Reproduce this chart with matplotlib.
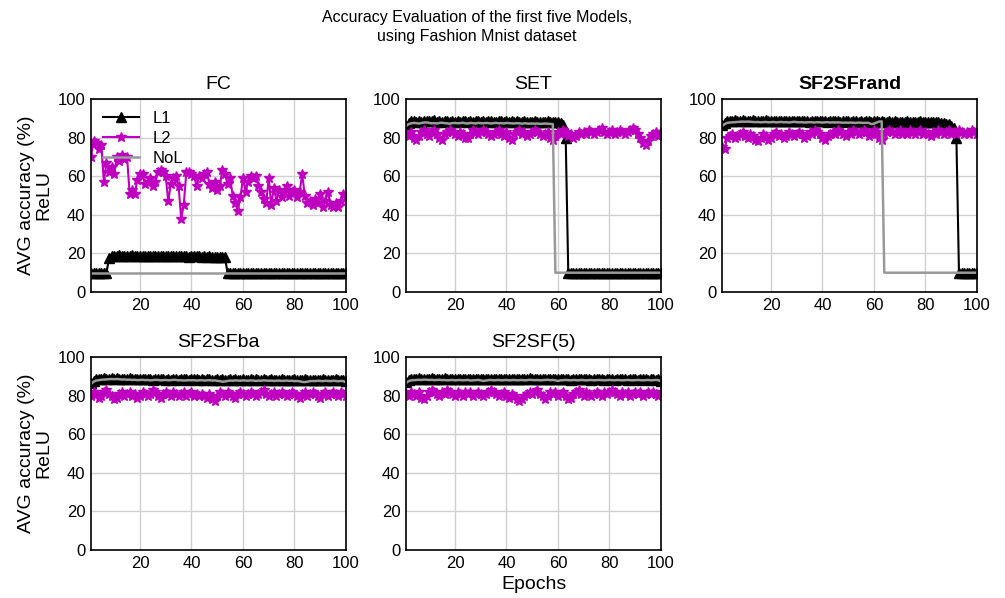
import matplotlib
matplotlib.use("Agg")
import matplotlib.pyplot as plt

plt.rcParams['font.family'] = ['Liberation Sans', 'DejaVu Sans']

epochs = list(range(1, 101))

FC_L1 = [10, 10, 10, 10, 10, 10, 10, 17.5, 18.6, 18.9,
         18.7, 19.0, 18.8, 18.6, 18.9, 18.7, 19.0, 18.8, 18.6, 18.9,
         18.7, 18.9, 18.6, 18.8, 18.5, 18.7, 18.9, 18.6, 18.8, 18.5,
         18.7, 18.4, 18.6, 18.8, 18.5, 18.7, 18.4, 18.6, 18.3, 18.5,
         18.7, 18.4, 18.6, 18.3, 18.5, 18.2, 18.4, 18.1, 18.3, 18.2,
         18.0, 18.2, 18.0, 10, 10, 10, 10, 10, 10, 10,
         10, 10, 10, 10, 10, 10, 10, 10, 10, 10,
         10, 10, 10, 10, 10, 10, 10, 10, 10, 10,
         10, 10, 10, 10, 10, 10, 10, 10, 10, 10,
         10, 10, 10, 10, 10, 10, 10, 10, 10, 10]
FC_L2 = [70, 78, 77, 74, 76, 57, 67, 62, 65, 61,
         70, 68, 71, 69, 70, 51, 53, 51, 58, 61,
         61, 56, 57, 59, 55, 57, 62, 63, 62, 60,
         47, 56, 59, 60, 55, 38, 45, 62, 62, 61,
         60, 55, 60, 59, 61, 62, 56, 54, 57, 53,
         55, 63, 61, 56, 59, 50, 46, 42, 49, 59,
         52, 57, 60, 59, 60, 55, 52, 48, 46, 59,
         45, 54, 47, 53, 49, 52, 55, 50, 52, 53,
         49, 52, 61, 50, 46, 47, 45, 48, 46, 51,
         44, 47, 52, 45, 44, 46, 44, 47, 51, 49]
FC_NoL = [10.0] * 100

SET_L1 = [86.0, 87.5, 88.4, 88.6, 88.3, 88.7, 88.2, 88.5, 88.8, 88.4,
          88.6, 88.9, 88.3, 88.5, 88.2, 88.6, 88.4, 88.1, 88.5, 88.3,
          88.6, 88.2, 88.4, 88.7, 88.3, 88.5, 88.2, 88.6, 88.4, 88.3,
          88.5, 88.2, 88.4, 88.6, 88.3, 88.1, 88.4, 88.5, 88.2, 88.4,
          88.3, 88.5, 88.2, 88.4, 88.1, 88.3, 88.5, 88.2, 88.0, 88.3,
          88.4, 88.1, 88.3, 88.0, 88.2, 88.4, 88.1, 88.3, 88.0, 88.2,
          87.6, 86.5, 80.0, 10, 10, 10, 10, 10, 10, 10,
          10, 10, 10, 10, 10, 10, 10, 10, 10, 10,
          10, 10, 10, 10, 10, 10, 10, 10, 10, 10,
          10, 10, 10, 10, 10, 10, 10, 10, 10, 10]
SET_L2 = [82, 81, 83, 80, 79, 81, 83, 84, 82, 81,
          83, 84, 82, 80, 79, 82, 83, 84, 83, 82,
          81, 83, 82, 80, 80, 82, 84, 83, 82, 83,
          84, 83, 82, 81, 82, 83, 84, 82, 81, 83,
          80, 79, 82, 83, 84, 82, 83, 81, 82, 83,
          84, 83, 82, 81, 82, 83, 80, 79, 81, 83,
          82, 84, 83, 81, 82, 80, 81, 83, 82, 83,
          82, 84, 83, 82, 83, 84, 85, 83, 82, 83,
          84, 82, 83, 84, 83, 82, 83, 84, 85, 84,
          82, 80, 77, 76, 78, 81, 82, 83, 81, 83]
SET_NoL = [86.0, 87.0, 87.4, 87.6, 87.5, 87.3, 87.6, 87.8, 87.9, 87.6,
           87.4, 87.5, 87.3, 87.6, 87.7, 87.5, 87.4, 87.2, 87.5, 87.6,
           87.4, 87.5, 87.7, 87.4, 87.3, 87.6, 87.5, 87.3, 87.6, 87.5,
           87.4, 87.6, 87.5, 87.3, 87.5, 87.6, 87.4, 87.5, 87.3, 87.6,
           87.5, 87.4, 87.3, 87.5, 87.4, 87.2, 87.4, 87.3, 87.2, 87.3,
           87.2, 87.3, 87.1, 87.2, 87.3, 87.2, 87.1, 87.0, 10, 10,
           10, 10, 10, 10, 10, 10, 10, 10, 10, 10,
           10, 10, 10, 10, 10, 10, 10, 10, 10, 10,
           10, 10, 10, 10, 10, 10, 10, 10, 10, 10,
           10, 10, 10, 10, 10, 10, 10, 10, 10, 10]

RAND_L1 = [86.5, 87.8, 88.6, 88.8, 88.5, 88.9, 88.7, 88.6, 88.9, 88.7,
           88.8, 88.6, 88.9, 88.7, 88.5, 88.8, 88.6, 88.9, 88.7, 88.5,
           88.7, 88.5, 88.8, 88.6, 88.4, 88.7, 88.5, 88.8, 88.6, 88.4,
           88.6, 88.4, 88.7, 88.5, 88.3, 88.6, 88.8, 88.5, 88.4, 88.6,
           88.5, 88.3, 88.6, 88.4, 88.7, 88.5, 88.3, 88.6, 88.4, 88.5,
           88.3, 88.6, 88.4, 88.2, 88.5, 88.3, 88.6, 88.4, 88.2, 88.5,
           88.4, 88.2, 88.5, 88.3, 88.1, 88.4, 88.2, 88.5, 88.3, 88.1,
           88.3, 88.1, 88.4, 88.2, 88.0, 88.3, 88.1, 88.4, 88.2, 88.0,
           88.2, 88.0, 88.3, 87.9, 88.1, 87.8, 87.6, 87.2, 86.8, 86.0,
           85.0, 80.0, 10, 10, 10, 10, 10, 10, 10, 10]
RAND_L2 = [75, 74, 80, 81, 82, 80, 81, 82, 83, 81,
           80, 82, 81, 79, 78, 80, 82, 81, 79, 80,
           82, 83, 81, 82, 80, 81, 83, 82, 81, 82,
           83, 82, 80, 81, 83, 82, 84, 83, 82, 80,
           79, 81, 82, 83, 82, 84, 83, 82, 81, 83,
           82, 84, 83, 82, 83, 84, 83, 81, 82, 84,
           83, 80, 79, 82, 83, 84, 83, 82, 83, 84,
           82, 83, 82, 84, 83, 82, 83, 84, 82, 83,
           82, 81, 83, 82, 84, 83, 82, 83, 84, 82,
           83, 82, 84, 83, 82, 83, 82, 84, 83, 82]
RAND_NoL = [86.0, 87.0, 87.6, 87.8, 87.9, 88.0, 88.1, 88.2, 88.3, 88.2,
            88.3, 88.2, 88.1, 88.0, 88.1, 87.9, 88.0, 88.1, 87.9, 88.0,
            88.1, 87.9, 88.0, 88.1, 87.9, 88.0, 87.8, 88.0, 88.2, 88.0,
            87.9, 88.0, 87.8, 87.9, 88.0, 87.9, 87.8, 88.0, 87.9, 87.8,
            87.9, 88.0, 87.8, 87.9, 87.8, 87.9, 87.8, 87.7, 87.8, 87.7,
            87.8, 87.7, 87.6, 87.8, 87.7, 87.6, 87.7, 87.6, 87.0, 87.2,
            87.8, 88.3, 88.4, 10, 10, 10, 10, 10, 10, 10,
            10, 10, 10, 10, 10, 10, 10, 10, 10, 10,
            10, 10, 10, 10, 10, 10, 10, 10, 10, 10,
            10, 10, 10, 10, 10, 10, 10, 10, 10, 10]

BA_L1 = [86.5, 87.8, 88.5, 88.7, 88.4, 88.9, 88.6, 88.8, 89.0, 88.7,
         88.9, 88.6, 88.8, 88.5, 88.7, 88.9, 88.6, 88.4, 88.7, 88.5,
         88.6, 88.4, 88.7, 88.5, 88.3, 88.6, 88.4, 88.7, 88.5, 88.3,
         88.5, 88.3, 88.6, 88.4, 88.2, 88.5, 88.7, 88.4, 88.3, 88.5,
         88.6, 88.4, 88.2, 88.5, 88.3, 88.4, 88.6, 88.3, 88.1, 88.4,
         88.2, 88.5, 88.3, 88.1, 88.4, 88.2, 88.5, 88.3, 88.2, 88.4,
         88.3, 88.1, 88.4, 88.2, 88.5, 88.3, 88.1, 88.4, 88.2, 88.3,
         88.4, 88.2, 88.3, 88.1, 88.4, 88.2, 88.0, 88.3, 88.2, 88.4,
         88.1, 88.3, 88.2, 88.4, 88.1, 88.3, 88.2, 88.0, 88.3, 88.2,
         88.4, 88.2, 88.1, 88.3, 88.2, 88.4, 88.1, 88.3, 88.2, 87.5]
BA_L2 = [80, 82, 81, 79, 80, 82, 83, 81, 80, 78,
         79, 81, 82, 80, 81, 82, 80, 81, 79, 80,
         82, 81, 80, 81, 83, 82, 80, 79, 81, 82,
         81, 80, 82, 81, 80, 81, 82, 80, 81, 82,
         80, 81, 80, 81, 80, 79, 81, 78, 77, 80,
         82, 81, 80, 82, 81, 80, 79, 81, 82, 81,
         80, 81, 82, 81, 80, 81, 82, 83, 81, 80,
         81, 82, 80, 81, 82, 81, 80, 81, 82, 81,
         80, 79, 81, 82, 80, 81, 82, 81, 80, 79,
         81, 82, 80, 81, 82, 81, 80, 82, 81, 80]
BA_NoL = [86.0, 87.2, 87.8, 88.0, 88.2, 88.3, 88.4, 88.5, 88.6, 88.5,
          88.6, 88.5, 88.3, 88.4, 88.2, 88.3, 88.1, 88.2, 88.0, 88.1,
          88.2, 88.0, 88.1, 87.9, 88.0, 88.2, 88.1, 87.9, 88.0, 88.1,
          87.9, 88.0, 88.2, 88.1, 87.9, 88.0, 87.8, 87.9, 88.0, 87.9,
          88.0, 87.8, 87.9, 88.0, 87.8, 87.9, 88.0, 87.8, 87.9, 87.7,
          87.5, 87.2, 87.3, 87.6, 87.8, 87.7, 87.9, 87.8, 87.7, 87.9,
          87.8, 87.7, 87.9, 87.8, 87.6, 87.8, 87.7, 87.9, 87.8, 87.7,
          87.8, 87.6, 87.7, 87.8, 87.6, 87.7, 87.8, 87.6, 87.7, 87.5,
          87.6, 87.4, 87.1, 87.0, 87.2, 87.5, 87.6, 87.5, 87.7, 87.6,
          87.5, 87.7, 87.6, 87.5, 87.7, 87.6, 87.4, 87.6, 87.5, 86.8]

F5_L1 = [87.0, 88.2, 88.6, 88.8, 88.5, 88.9, 88.6, 88.8, 88.5, 88.7,
         88.9, 88.6, 88.8, 88.5, 88.7, 88.9, 88.6, 88.4, 88.7, 88.5,
         88.7, 88.5, 88.8, 88.6, 88.4, 88.7, 88.5, 88.8, 88.6, 88.4,
         88.6, 88.4, 88.7, 88.5, 88.8, 88.6, 88.4, 88.7, 88.5, 88.6,
         88.8, 88.5, 88.7, 88.4, 88.6, 88.8, 88.5, 88.7, 88.9, 88.6,
         88.7, 88.5, 88.8, 88.6, 88.4, 88.7, 88.5, 88.8, 88.6, 88.4,
         88.6, 88.4, 88.7, 88.5, 88.3, 88.6, 88.4, 88.7, 88.5, 88.6,
         88.4, 88.6, 88.3, 88.5, 88.7, 88.4, 88.6, 88.3, 88.5, 88.4,
         88.6, 88.3, 88.5, 88.7, 88.4, 88.6, 88.3, 88.5, 88.4, 88.6,
         88.3, 88.5, 88.4, 88.6, 88.3, 88.5, 88.4, 88.2, 88.4, 87.6]
F5_L2 = [81, 80, 82, 81, 80, 82, 79, 78, 80, 82,
         83, 82, 81, 80, 82, 81, 83, 82, 81, 80,
         82, 81, 80, 82, 81, 82, 80, 81, 82, 81,
         80, 81, 82, 83, 82, 81, 80, 81, 82, 80,
         79, 81, 80, 78, 77, 78, 80, 81, 82, 81,
         82, 83, 81, 80, 78, 80, 82, 81, 82, 80,
         81, 82, 80, 78, 79, 81, 82, 83, 81, 80,
         82, 81, 80, 81, 82, 81, 80, 82, 81, 82,
         83, 82, 81, 80, 82, 81, 82, 80, 81, 82,
         81, 82, 80, 81, 82, 81, 82, 81, 80, 82]
F5_NoL = [86.5, 87.5, 87.9, 88.0, 88.1, 88.2, 88.1, 88.3, 88.2, 88.1,
          88.2, 88.0, 88.1, 88.2, 88.0, 88.1, 87.9, 88.0, 88.1, 87.9,
          88.0, 88.1, 87.9, 88.0, 88.1, 87.8, 87.9, 88.0, 88.1, 87.9,
          87.6, 87.8, 88.0, 88.1, 87.9, 88.0, 88.1, 87.9, 88.0, 88.1,
          87.9, 88.0, 88.1, 87.9, 88.0, 88.1, 87.9, 88.0, 88.2, 88.1,
          88.0, 88.1, 87.9, 88.0, 88.1, 88.2, 88.0, 88.1, 87.9, 87.6,
          87.9, 88.0, 88.1, 88.0, 87.9, 88.1, 88.0, 87.9, 88.1, 88.0,
          87.9, 88.0, 88.1, 87.9, 88.0, 88.1, 88.0, 87.9, 88.0, 88.1,
          88.0, 87.9, 88.1, 88.0, 87.9, 88.0, 88.1, 88.0, 87.9, 88.0,
          88.1, 88.0, 87.9, 88.0, 88.1, 87.9, 88.0, 88.1, 88.0, 87.4]

titles = ["FC", "SET", "SF2SFrand", "SF2SFba", "SF2SF(5)"]
series = [(FC_L1, FC_L2, FC_NoL), (SET_L1, SET_L2, SET_NoL),
          (RAND_L1, RAND_L2, RAND_NoL), (BA_L1, BA_L2, BA_NoL),
          (F5_L1, F5_L2, F5_NoL)]
labels = ["L1", "L2", "NoL"]
xticks = [20, 40, 60, 80, 100]
yticks = [0, 20, 40, 60, 80, 100]

W, H = 1005, 598
fig = plt.figure(figsize=(W / 100, H / 100), dpi=100)

# pixel boxes: (left, top, right, bottom)
boxes = [(91, 99, 346, 292), (406, 99, 661, 292), (722, 99, 977, 292),
         (91, 357, 346, 550), (406, 357, 661, 550)]

for i, (title, (l1, l2, nol), (x0, y0, x1, y1)) in enumerate(zip(titles, series, boxes)):
    ax = fig.add_axes([x0 / W, 1 - y1 / H, (x1 - x0) / W, (y1 - y0) / H])
    ax.plot(epochs, l1, color='black', marker='^', markersize=7, lw=1.5, label=labels[0])
    ax.plot(epochs, l2, color='#c000c0', marker='*', markersize=7.5, lw=1.5, label=labels[1])
    ax.plot(epochs, nol, color='#999999', lw=1.8, label=labels[2])
    ax.set_xlim(1, 100)
    ax.set_ylim(0, 100)
    ax.set_xticks(xticks)
    ax.set_yticks(yticks)
    ax.grid(True, color='#d0d0d0', lw=1.0)
    ax.set_axisbelow(True)
    ax.tick_params(length=0, labelsize=12, pad=4)
    for s in ax.spines.values():
        s.set_color('black')
        s.set_linewidth(1.2)
    ax.set_title(title, fontsize=14, fontweight='bold' if title == "SF2SFrand" else 'normal', pad=7)
    if i in (0, 3):
        ax.set_ylabel("AVG accuracy (%)\nReLU", fontsize=14, labelpad=4, linespacing=1.0)
    if i == 4:
        ax.set_xlabel("Epochs", fontsize=14, labelpad=4)
    if i == 0:
        ax.legend(loc='upper left', frameon=False, fontsize=12, handlelength=2.2,
                  borderaxespad=0.3, labelspacing=0.3)

fig.text(477 / W, 1 - 27 / H, "Accuracy Evaluation of the first five Models,\nusing Fashion Mnist dataset",
         ha='center', va='center', fontsize=11.5, linespacing=1.3)

fig.savefig("out.png", dpi=100)
